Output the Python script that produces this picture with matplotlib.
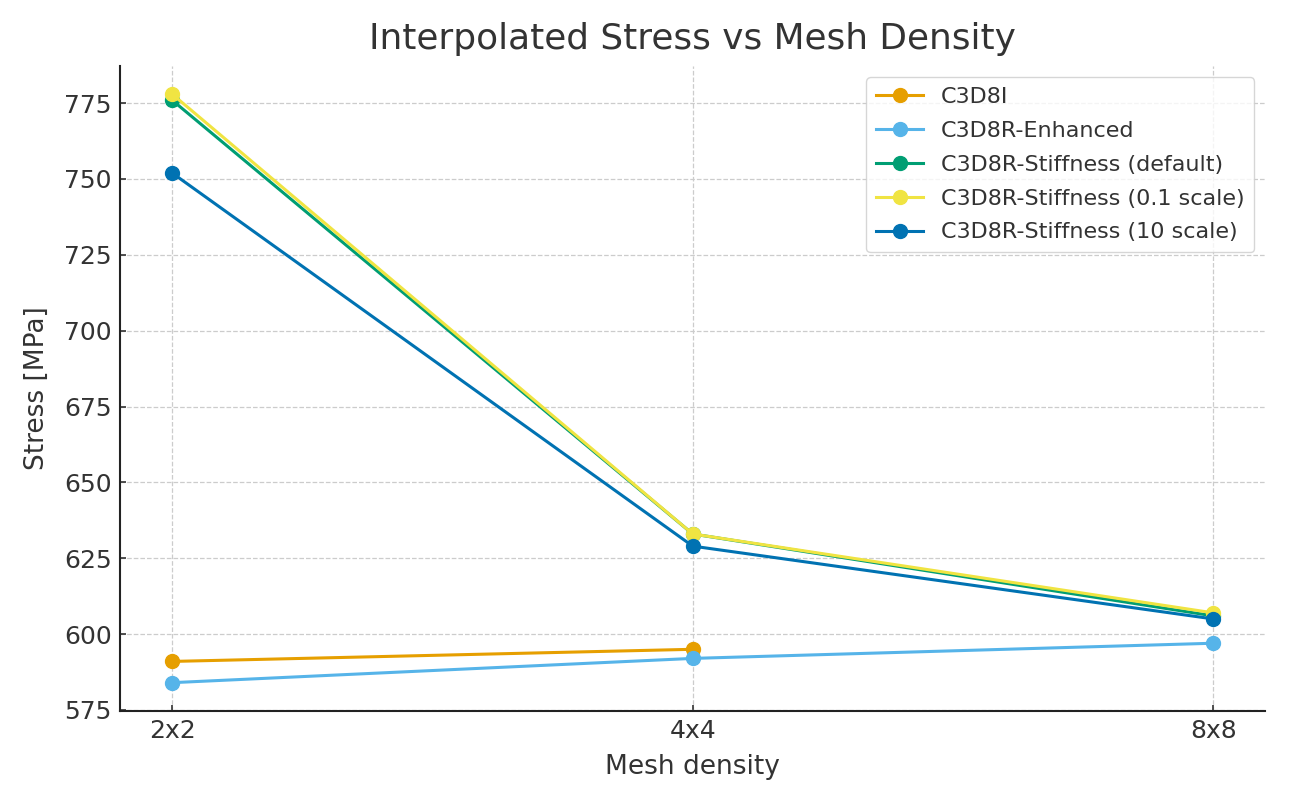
import numpy as np
import matplotlib.pyplot as plt

# mesh densities and interpolated stress [MPa]
meshes = ['2x2', '4x4', '8x8']
c3d8i = [591, 595]
c3d8r_enh = [584, 592, 597]
c3d8r_stiff_def = [776, 633, 606]
c3d8r_stiff_01 = [778, 633, 607]
c3d8r_stiff_10 = [752, 629, 605]

series = [
    ('C3D8I', c3d8i, '#E69F00'),
    ('C3D8R-Enhanced', c3d8r_enh, '#56B4E9'),
    ('C3D8R-Stiffness (default)', c3d8r_stiff_def, '#009E73'),
    ('C3D8R-Stiffness (0.1 scale)', c3d8r_stiff_01, '#F0E442'),
    ('C3D8R-Stiffness (10 scale)', c3d8r_stiff_10, '#0072B2'),
]

txt = '#333333'
plt.rcParams['font.family'] = 'DejaVu Sans'

fig = plt.figure(figsize=(12.9, 8.06), dpi=100)
ax = fig.add_axes([0.093, 0.118, 0.888, 0.800])

x = np.arange(len(meshes))
for name, vals, col in series:
    ax.plot(x[:len(vals)], vals, marker='o', color=col, lw=2.2, ms=10, label=name)

ax.set_xticks(x)
ax.set_xticklabels(meshes)
ax.set_xlim(-0.1, 2.1)
ax.set_ylim(574.7, 787.2)
ax.set_yticks(np.arange(575, 776, 25))

ax.grid(True, ls='--', color='#cccccc', lw=0.9)
ax.set_axisbelow(True)
for s in ('top', 'right'):
    ax.spines[s].set_visible(False)
for s in ('left', 'bottom'):
    ax.spines[s].set_linewidth(1.5)
    ax.spines[s].set_color('#222222')

ax.tick_params(labelsize=18, colors=txt, direction='in', length=4, width=1.2, pad=6)
ax.set_title('Interpolated Stress vs Mesh Density', fontsize=25.8, color=txt, pad=12)
ax.set_xlabel('Mesh density', fontsize=19, color=txt, labelpad=8)
ax.set_ylabel('Stress [MPa]', fontsize=19, color=txt, labelpad=10)

leg = ax.legend(loc='upper right', fontsize=16, frameon=True, fancybox=True,
                borderaxespad=0.5, handlelength=2.1, labelspacing=0.62,
                borderpad=0.45)
leg.get_frame().set_edgecolor('#cccccc')
for t in leg.get_texts():
    t.set_color(txt)

fig.savefig('out.png', dpi=100)
